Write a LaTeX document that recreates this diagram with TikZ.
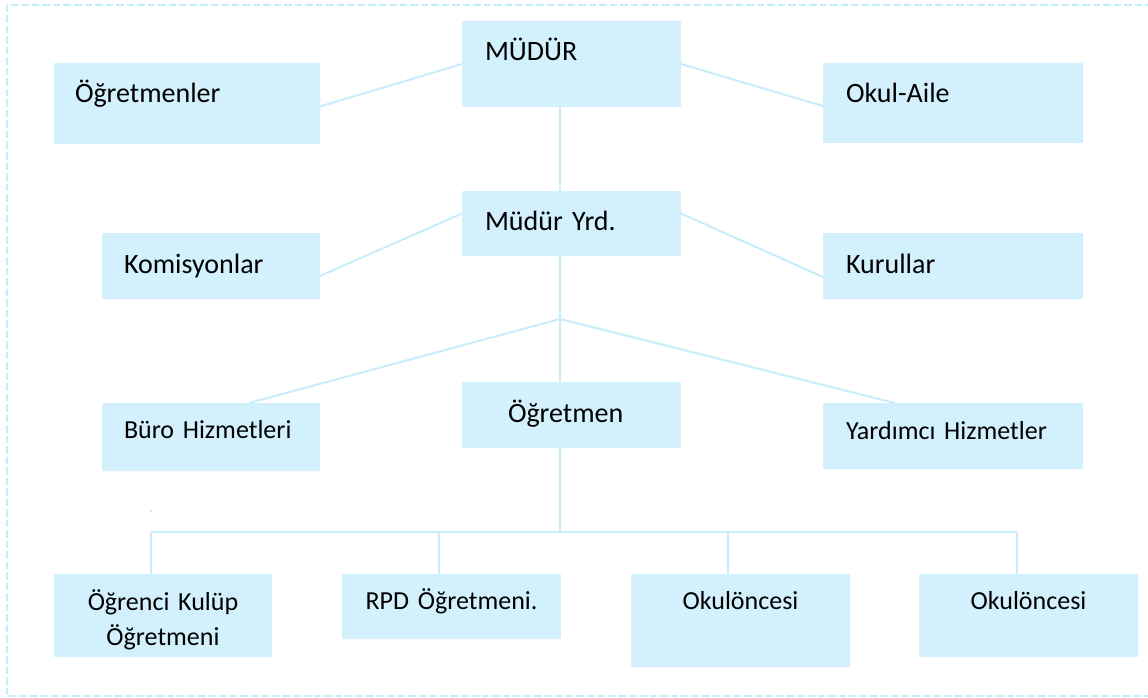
\documentclass[tikz,border=0pt]{standalone}
\usepackage{fontspec}
\setmainfont{Carlito}
\usetikzlibrary{calc}
\definecolor{boxfill}{HTML}{D2F1FD}
\definecolor{linkcol}{HTML}{C8EDFA}

\begin{document}
\begin{tikzpicture}[x=1pt, y=-1pt,
	box/.style={fill=boxfill, rounded corners=1pt, anchor=base west, inner ysep=0pt, outer sep=0pt, align=left, font=\fontsize{28}{34}\selectfont},
	small/.style={font=\fontsize{26}{35}\selectfont},
	mid/.style={align=center, inner xsep=4pt},
	link/.style={draw=linkcol, line width=2pt}]
	%%%%% FRAME %%%%%
	\useasboundingbox (0,0) rectangle (1148,698);
	\draw[linkcol, line width=2pt, dash pattern=on 7.5pt off 3pt] (7,5) rectangle (1154,696);
	
	%%%%% TOP %%%%%
	\node[box, inner xsep=23pt, text width=173pt, text height=40pt, text depth=46pt] (mudur) at (462,61) {MÜDÜR};
	\node[box, inner xsep=21pt, text width=224pt, text height=40pt, text depth=41pt] (ogretmenler) at (54,103) {Öğretmenler};
	\node[box, inner xsep=23pt, text width=214pt, text height=40pt, text depth=40pt] (okulaile) at (823,103) {Okul-Aile};
	
	\node[box, inner xsep=23pt, text width=173pt, text height=39pt, text depth=26pt] (yrd) at (462,230) {Müdür Yrd.};
	\node[box, inner xsep=22pt, text width=174pt, text height=40pt, text depth=26pt] (komisyon) at (102,273) {Komisyonlar};
	\node[box, inner xsep=23pt, text width=214pt, text height=40pt, text depth=26pt] (kurullar) at (823,273) {Kurullar};
	
	%%%%% MIDDLE %%%%%
	\node[box, small, inner xsep=22pt, text width=174pt, text height=35pt, text depth=33pt] (buro) at (102,438) {Büro Hizmetleri};
	\node[box, inner xsep=46pt, text width=127pt, text height=40pt, text depth=26pt] (ogretmen) at (462,422) {Öğretmen};
	\node[box, small, inner xsep=23pt, text width=214pt, text height=36pt, text depth=30pt] (yardimci) at (823,439) {Yardımcı Hizmetler};
	
	%%%%% BOTTOM %%%%%
	\node[box, small, mid, text width=210pt, text height=36pt, text depth=47pt] (kulup) at (54,610) {Öğrenci Kulüp\\Öğretmeni};
	\node[box, small, mid, text width=211pt, text height=35pt, text depth=30pt] (rpd) at (342,609) {RPD Öğretmeni.};
	\node[box, small, mid, text width=211pt, text height=35pt, text depth=58pt] (okul1) at (631,609) {Okulöncesi};
	\node[box, small, mid, text width=211pt, text height=35pt, text depth=48pt] (okul2) at (919,609) {Okulöncesi};
	
	%%%%% LINKS %%%%%
	\coordinate (hub) at (560,319);
	\coordinate (bus) at (560,532);
	\draw[link] ([yshift=-3pt]ogretmenler.east) -- (mudur.west);
	\draw[link] (mudur.east) -- ([yshift=-3pt]okulaile.west);
	\draw[link] ([yshift=-10pt]komisyon.east) -- ([yshift=10pt]yrd.west);
	\draw[link] ([yshift=10pt]yrd.east) -- ([yshift=-11pt]kurullar.west);
	\draw[link] (hub |- mudur.south) -- (hub |- yrd.north);
	\draw[link] (hub |- yrd.south) -- (hub) -- (hub |- ogretmen.north);
	\draw[link] ([xshift=38pt]buro.north) -- (hub) -- ([xshift=-58pt]yardimci.north);
	\draw[link] (hub |- ogretmen.south) -- (bus);
	
	\foreach \n/\x in {kulup/151, rpd/439, okul1/728, okul2/1017}
		\coordinate (d\n) at (\x,532);
	\draw[link] (dkulup) -- (dokul2);
	\foreach \n in {kulup, rpd, okul1, okul2}
		\draw[link] (d\n) -- (d\n |- \n.north);
	\fill[linkcol] (151,511) circle (1.5pt);
	
\end{tikzpicture}
\end{document}
